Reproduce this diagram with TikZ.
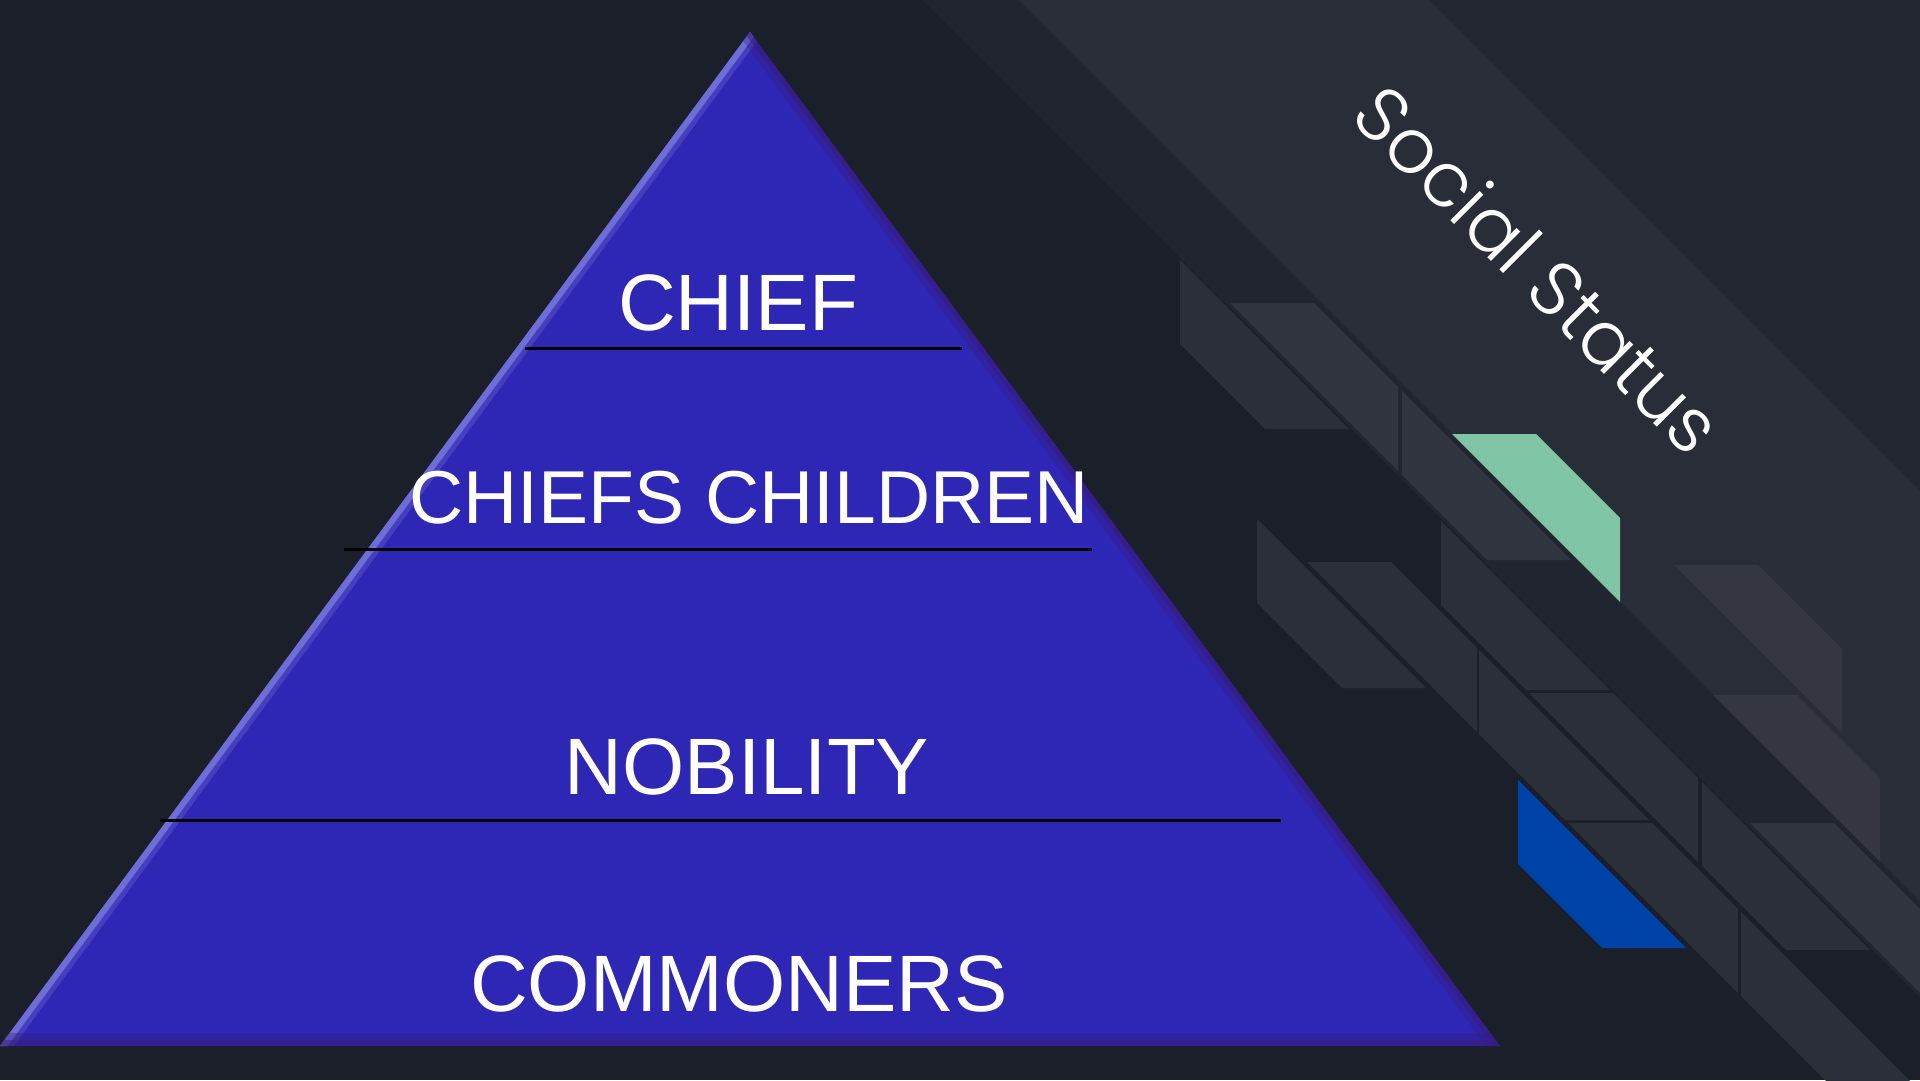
\documentclass[tikz,border=0pt]{standalone}
\usepackage{fontspec}
\setmainfont{Liberation Sans}
\newfontfamily\titlefont{Poppins Light}
\usepackage{tikz}

\definecolor{bgdark}{RGB}{27,31,42}
\definecolor{bandone}{RGB}{33,37,47}
\definecolor{bandtwo}{RGB}{41,45,56}
\definecolor{bandthree}{RGB}{34,38,49}
\definecolor{greyA}{RGB}{43,47,58}
\definecolor{greyB}{RGB}{49,53,63}
\definecolor{greyC}{RGB}{52,55,65}
\definecolor{greenbar}{RGB}{128,197,165}
\definecolor{bluebar}{RGB}{0,67,168}
\definecolor{pyrfill}{RGB}{46,38,180}
\definecolor{pyrlight}{RGB}{140,140,230}
\definecolor{pyrshade}{RGB}{55,28,120}

\begin{document}
\begin{tikzpicture}[x=1pt,y=-1pt,
    level/.style={text=white,anchor=base,inner sep=0pt,font=\fontsize{80}{96}\selectfont},
    sepline/.style={black,line width=3pt}]

        \def \barw {84}

        \useasboundingbox (0,0) rectangle (1920,1080);
        \clip (0,0) rectangle (1920,1080);
        \fill[bgdark] (0,0) rectangle (1920,1080);

        % Draw bands
        \fill[bandone] (922,0) -- (1018,0) -- (1920,902) -- (1920,998) -- cycle;
        \fill[bandtwo] (1018,0) -- (1430,0) -- (1920,490) -- (1920,902) -- cycle;
        \fill[bandthree] (1430,0) -- (1920,0) -- (1920,490) -- cycle;

        % Draw bars with a vertical left end
        \foreach \cl/\xa/\yb/\col in {836/1180/429/greyA, 836/1441/690/greyA,
            836/1702/950/greyA, 654/1257/688/greyA, 654/1518/948/bluebar,
            745/1479/820/greyA, 745/1741/1200/greyA, 927/1402/560/greyB} {
            \fill[\col] (\xa,{\xa-\cl-\barw}) -- (\xa,{\xa-\cl})
                -- ({\yb+\cl},\yb) -- ({\yb+\cl+\barw},\yb) -- cycle;
        }
        % Draw bars with a vertical right end
        \foreach \cl/\yt/\xr/\col in {927/303/1398/greyB, 1018/434/1620/greenbar,
            1109/565/1842/greyC, 1018/695/1880/greyC, 927/823/2000/greyB,
            836/693/1698/greyA, 745/562/1477/greyA, 745/823/1738/greyA} {
            \fill[\col] ({\yt+\cl},\yt) -- ({\yt+\cl+\barw},\yt)
                -- (\xr,{\xr-\cl-\barw}) -- (\xr,{\xr-\cl}) -- cycle;
        }

        % Draw pyramid
        \coordinate (apex) at (750,32);
        \coordinate (bl) at (0,1046);
        \coordinate (br) at (1500,1046);
        \begin{scope}
            \clip (apex) -- (bl) -- (br) -- cycle;
            \fill[pyrfill] (apex) -- (bl) -- (br) -- cycle;
            \draw[pyrlight,line width=22pt,opacity=.25] (apex) -- (bl);
            \draw[pyrlight,line width=12pt,opacity=.6] (apex) -- (bl);
            \draw[pyrshade,line width=22pt,opacity=.3] (apex) -- (br);
            \draw[pyrshade,line width=10pt,opacity=.5] (apex) -- (br);
            \draw[pyrshade,line width=26pt,opacity=.35] (bl) -- (br);
            \draw[pyrshade,line width=12pt,opacity=.45] (bl) -- (br);
        \end{scope}

        % Draw separators
        \foreach \i/\y/\xl/\xr in {1/348/525/962, 2/549/344/1092, 3/820/160/1281} {
            \coordinate (sep-\i-w) at (\xl,\y);
            \coordinate (sep-\i-e) at (\xr,\y);
            \draw[sepline] (sep-\i-w) -- (sep-\i-e);
        }

        % Draw levels
        \node[level] (chief) at (738,330) {CHIEF};
        \node[level,font=\fontsize{75}{90}\selectfont] (children) at (749,523) {CHIEFS CHILDREN};
        \node[level] (nobility) at (747,794) {NOBILITY};
        \node[level] (commoners) at (739,1011) {COMMONERS};

        % Draw title
        \node[text=white,anchor=base,inner sep=0pt,rotate=-45,
            font=\titlefont\fontsize{76}{90}\selectfont] (title) at (1519,289) {Social Status};

    \end{tikzpicture}
\end{document}
